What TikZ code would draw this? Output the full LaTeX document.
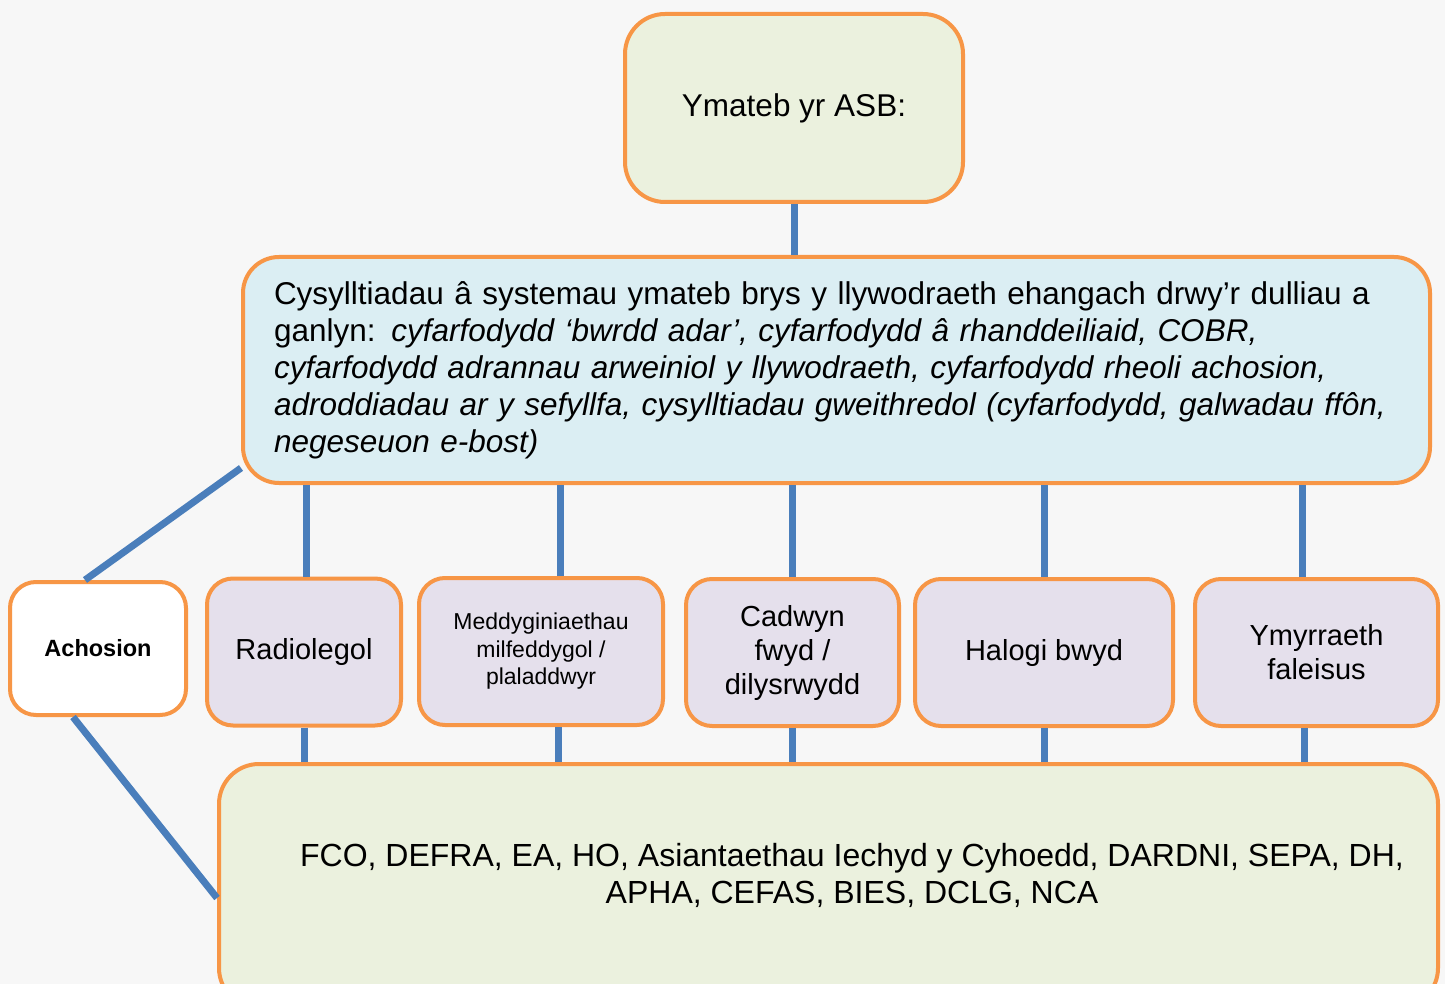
\documentclass[tikz,border=0pt]{standalone}
\usepackage{fontspec}
\setmainfont{Liberation Sans}
\usepackage{tikz}

\definecolor{asbborder}{HTML}{F79646}
\definecolor{asbline}{HTML}{4A7EBB}
\definecolor{asbgreen}{HTML}{EBF1DE}
\definecolor{asbblue}{HTML}{DBEEF3}
\definecolor{asblilac}{HTML}{E5E0EC}
\definecolor{asbbg}{HTML}{F7F7F7}

\begin{document}
\begin{tikzpicture}[x=1pt, y=-1pt,
    box/.style={draw=asbborder, line width=4pt, rounded corners=26pt, inner sep=0pt, align=center},
    cause/.style={box, fill=asblilac, minimum height=147pt, font=\fontsize{29}{34}\selectfont},
    link/.style={draw=asbline, line width=7pt}]
        \useasboundingbox (0,0) rectangle (1445,984);
        \clip (0,0) rectangle (1445,984);
        \fill[asbbg] (0,0) rectangle (1445,984);

        \node[box, fill=asbgreen, rounded corners=40pt, minimum width=338pt, minimum height=188pt, font=\fontsize{31.5}{37}\selectfont] (asb) at (794, 108) {Ymateb yr ASB:};

        \node[box, fill=asbblue, rounded corners=36pt, minimum width=1187pt, minimum height=226pt, text width=1125pt, align=left, font=\fontsize{31.5}{37}\selectfont] (links) at (836.5, 370)
            {Cysylltiadau â systemau ymateb brys y llywodraeth ehangach drwy’r dulliau a\\
             ganlyn: \textit{cyfarfodydd ‘bwrdd adar’, cyfarfodydd â rhanddeiliaid, COBR,}\\
             \textit{cyfarfodydd adrannau arweiniol y llywodraeth, cyfarfodydd rheoli achosion,}\\
             \textit{adroddiadau ar y sefyllfa, cysylltiadau gweithredol (cyfarfodydd, galwadau ffôn,}\\
             \textit{negeseuon e-bost)}};

        \node[box, fill=white, minimum width=176pt, minimum height=133pt, font=\fontsize{23.5}{28}\selectfont\bfseries] (achos) at (98, 648.5) {Achosion};

        \node[cause, minimum width=194pt] (radio) at (304, 652) {Radiolegol};
        \node[cause, minimum width=244pt, font=\fontsize{23}{27.5}\selectfont] (meddyg) at (541, 651.5) {Meddyginiaethau\\milfeddygol /\\plaladdwyr};
        \node[cause, minimum width=213pt] (cadwyn) at (792.5, 652.5) {Cadwyn\\fwyd /\\dilysrwydd};
        \node[cause, minimum width=258pt] (halogi) at (1044, 652.5) {Halogi bwyd};
        \node[cause, minimum width=243pt] (ymyrr) at (1316.5, 652.5) {Ymyrraeth\\faleisus};

        \node[box, fill=asbgreen, rounded corners=40pt, minimum width=1219pt, minimum height=244pt] (asiant) at (828.5, 886) {};
        \node[align=center, font=\fontsize{32}{37}\selectfont] (asianttxt) at (852, 875)
            {FCO, DEFRA, EA, HO, Asiantaethau Iechyd y Cyhoedd, DARDNI, SEPA, DH,\\APHA, CEFAS, BIES, DCLG, NCA};

        % top to middle
        \draw[link] (asb.south) -- (asb.south |- links.north);
        % middle to causes
        \draw[link] ([xshift=2pt]radio.north) -- ([xshift=2pt]radio.north |- links.south);
        \draw[link] ([xshift=19pt]meddyg.north) -- ([xshift=19pt]meddyg.north |- links.south);
        \draw[link] (cadwyn.north) -- (cadwyn.north |- links.south);
        \draw[link] (halogi.north) -- (halogi.north |- links.south);
        \draw[link] ([xshift=-14pt]ymyrr.north) -- ([xshift=-14pt]ymyrr.north |- links.south);
        % causes to agencies
        \draw[link] (radio.south) -- (radio.south |- asiant.north);
        \draw[link] ([xshift=17pt]meddyg.south) -- ([xshift=17pt]meddyg.south |- asiant.north);
        \draw[link] (cadwyn.south) -- (cadwyn.south |- asiant.north);
        \draw[link] (halogi.south) -- (halogi.south |- asiant.north);
        \draw[link] ([xshift=-12pt]ymyrr.south) -- ([xshift=-12pt]ymyrr.south |- asiant.north);
        % achosion links
        \draw[link] ([yshift=17pt]links.south west) -- ([xshift=-13pt]achos.north);
        \draw[link] ([xshift=-25pt]achos.south) -- ([yshift=-12pt]asiant.west);
\end{tikzpicture}
\end{document}
